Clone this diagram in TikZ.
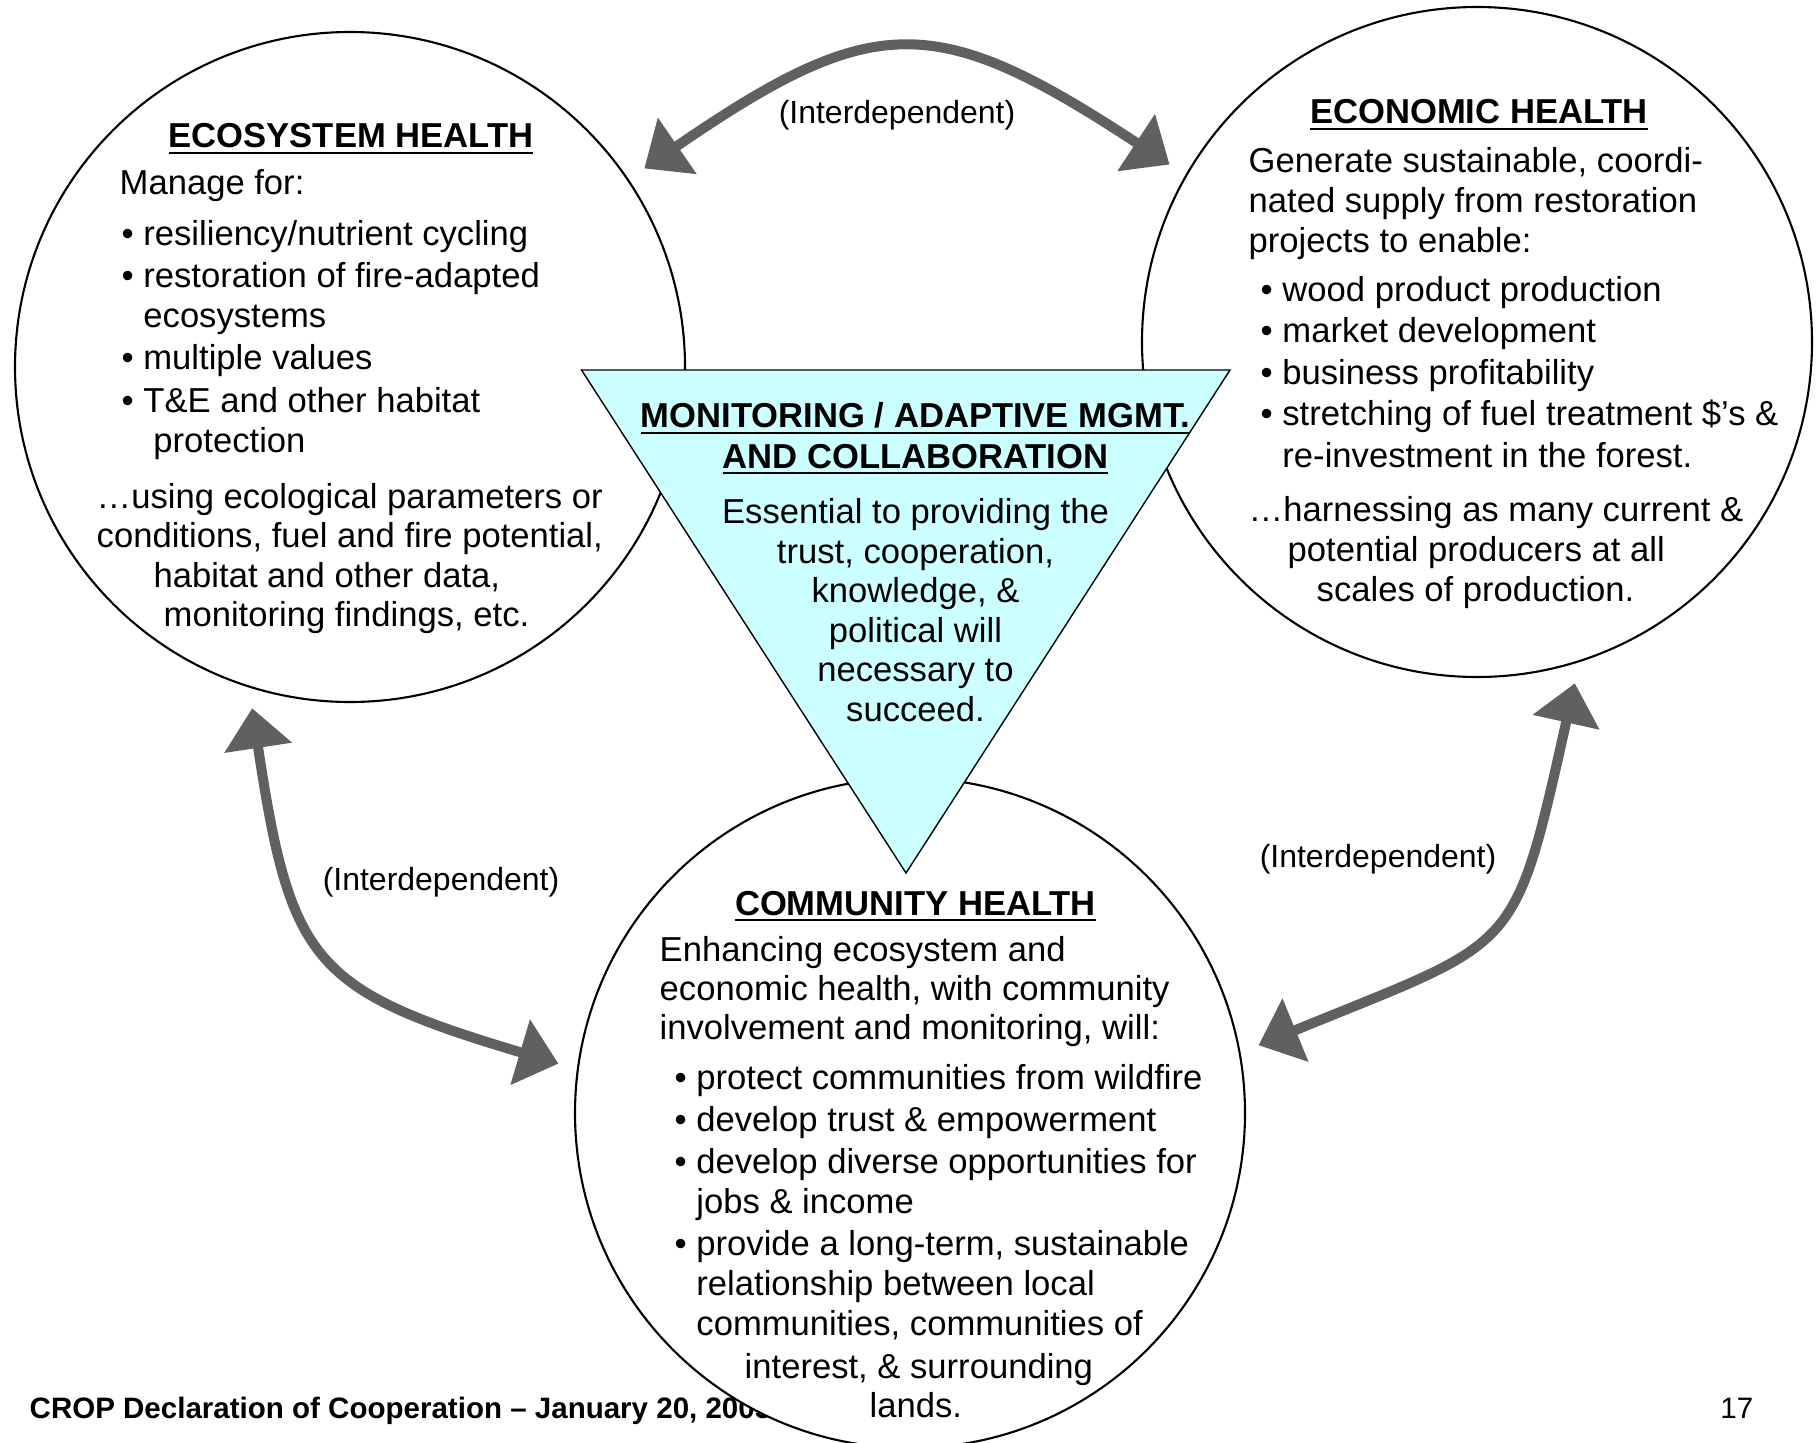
\documentclass[tikz,border=0pt]{standalone}
\usepackage{fontspec}
\setmainfont{Liberation Sans}
\usetikzlibrary{arrows.meta}
\definecolor{ink}{HTML}{000000}
\definecolor{arrowgrey}{HTML}{606060}
\definecolor{cyanfill}{HTML}{CCFFFF}
\def\W{18.16}
\def\H{14.42}
\newcommand{\txtfont}{\fontsize{9.85}{11.4}\selectfont}
\newcommand{\skp}[1]{\fontsize{9.85}{#1}\selectfont}
\newcommand{\undl}[1]{\underline{\smash{#1}}}
\newcommand{\bul}{\textbullet\ }
\newcommand{\ind}{\phantom{\textbullet\ }}
\tikzset{
  health/.style={circle,draw=ink,line width=0.6pt,fill=white,minimum size=6.7cm,
    inner sep=0pt,outer sep=0.2cm},
  link/.style={arrowgrey,line width=1mm,
    {Triangle[length=4mm,width=6.6mm]}-{Triangle[length=4mm,width=6.6mm]}},
  heading/.style={ink,font=\txtfont\bfseries,anchor=base,inner sep=0pt,align=center},
  para/.style={ink,anchor=base west,inner sep=0pt,align=left},
  body/.style={ink,anchor=base,inner sep=0pt,align=center},
  tag/.style={ink,font=\fontsize{9.1}{11}\selectfont,anchor=base,inner sep=0pt},
}

\begin{document}
\begin{tikzpicture}[font=\txtfont]
\useasboundingbox (0,0) rectangle (\W,\H);

% ---------------------------------------------------------------- footer (partly under the circle)
\node[ink,font=\fontsize{8.4}{10}\selectfont\bfseries,anchor=base west,inner sep=0pt] (foot)
  at (0.29,0.24) {CROP Declaration of Cooperation -- January 20, 2005};
\node[ink,font=\fontsize{8.4}{10}\selectfont,anchor=base east,inner sep=0pt] (page)
  at (17.54,0.24) {17};

% ---------------------------------------------------------------- the three circles
\node[health] (eco)  at (3.50,10.75) {};
\node[health] (econ) at (14.77,11.00) {};
\node[health] (com)  at (9.10,3.29) {};

% ---------------------------------------------------------------- centre triangle
\filldraw[fill=cyanfill,draw=ink,line width=0.4pt]
  (5.815,10.72) -- (12.30,10.72) -- (9.06,5.69) -- cycle;

% ---------------------------------------------------------------- links
\draw[link] (eco.34.5) to[out=34.5,in=146.7,looseness=1.36] (econ.150.2);
\draw[link] (eco.254.4) to[out=278.6,in=163.4,looseness=1.4] (com.172.4);
\draw[link] (econ.286) to[out=257.4,in=22.3,looseness=1.5] (com.11.4);
\node[tag] (tagtop)   at (8.97,13.18) {(Interdependent)};
\node[tag] (tagleft)  at (4.41,5.52)  {(Interdependent)};
\node[tag] (tagright) at (13.78,5.75) {(Interdependent)};

% ---------------------------------------------------------------- ecosystem health
% (multi-line nodes sit on the baseline of their last line)
\node[heading] (ecotitle) at (3.51,12.94) {\undl{ECOSYSTEM HEALTH}};
\node[para] (ecointro) at (1.19,12.47) {Manage for:};
\node[para,font=\skp{11.38}] (ecolist) at (1.21,9.90)
  {\bul resiliency/nutrient cycling\\[0.6pt]
   \bul restoration of fire-adapted\\
   \ind ecosystems\\[0.6pt]
   \bul multiple values\\[0.6pt]
   \bul T\&E and other habitat\\
   \ind\hspace*{0.1cm}protection};
\node[para,font=\skp{11.2}] (ecoend) at (0.96,8.155)
  {…using ecological parameters or\\
   conditions, fuel and fire potential,\\
   \hspace*{0.57cm}habitat and other data,\\
   \hspace*{0.67cm}monitoring findings, etc.};

% ---------------------------------------------------------------- economic health
\node[heading] (econtitle) at (14.79,13.18) {\undl{ECONOMIC HEALTH}};
\node[para,font=\skp{11.38}] (econintro) at (12.48,11.90)
  {Generate sustainable, coordi-\\
   nated supply from restoration\\
   projects to enable:};
\node[para,font=\skp{11.8}] (econlist) at (12.60,9.75)
  {\bul wood product production\\
   \bul market development\\
   \bul business profitability\\
   \bul stretching of fuel treatment \$’s \&\\
   \ind re-investment in the forest.};
\node[para,font=\skp{11.24}] (econend) at (12.48,8.41)
  {…harnessing as many current \&\\
   \hspace*{0.39cm}potential producers at all\\
   \hspace*{0.68cm}scales of production.};

% ---------------------------------------------------------------- monitoring / adaptive management
\node[heading] (montitle) at (9.155,9.74)
  {\undl{MONITORING / ADAPTIVE MGMT.}\\ \undl{AND COLLABORATION}};
\node[body,font=\skp{11.27}] (montext) at (9.155,7.205)
  {Essential to providing the\\ trust, cooperation,\\ knowledge, \&\\
   political will\\ necessary to\\ succeed.};

% ---------------------------------------------------------------- community health
\node[heading] (comtitle) at (9.155,5.27) {\undl{COMMUNITY HEALTH}};
\node[para,font=\skp{11.1}] (comintro) at (6.59,4.025)
  {Enhancing ecosystem and\\
   economic health, with community\\
   involvement and monitoring, will:};
\node[para,font=\skp{11.38}] (comlist) at (6.74,1.065)
  {\bul protect communities from wildfire\\[0.57pt]
   \bul develop trust \& empowerment\\[0.57pt]
   \bul develop diverse opportunities for\\
   \ind jobs \& income\\[0.57pt]
   \bul provide a long-term, sustainable\\
   \ind relationship between local\\
   \ind communities, communities of};
\node[para,font=\skp{11.1}] (comend) at (7.44,0.245)
  {interest, \& surrounding\\ \hspace*{1.25cm}lands.};

\end{tikzpicture}
\end{document}
